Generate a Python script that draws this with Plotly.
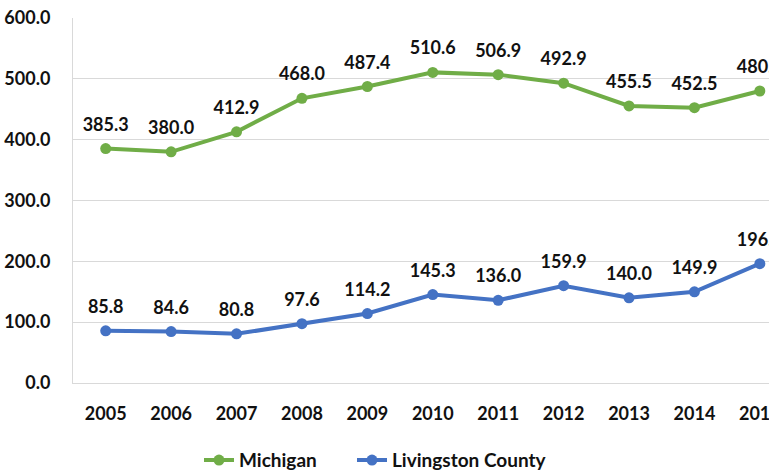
import plotly.graph_objects as go

years = ["2005", "2006", "2007", "2008", "2009", "2010", "2011", "2012", "2013", "2014", "2015"]
michigan = [385.3, 380.0, 412.9, 468.0, 487.4, 510.6, 506.9, 492.9, 455.5, 452.5, 480.0]
livingston = [85.8, 84.6, 80.8, 97.6, 114.2, 145.3, 136.0, 159.9, 140.0, 149.9, 196.1]
y_ticks = [0, 100, 200, 300, 400, 500, 600]

GREEN = "#70AD47"
BLUE = "#4472C4"
FONT = "Lato"
TXT = "#111111"

fig = go.Figure()
for name, vals, col, lg in [("Michigan", michigan, GREEN, "legend"),
                            ("Livingston County", livingston, BLUE, "legend2")]:
    fig.add_trace(go.Scatter(
        x=years, y=vals, name=name, mode="lines+markers", legend=lg,
        line=dict(color=col, width=4),
        marker=dict(color=col, size=11),
    ))
for vals in [michigan, livingston]:
    fig.add_trace(go.Scatter(
        x=years, y=vals, mode="markers+text", showlegend=False, hoverinfo="skip",
        marker=dict(size=20, color="rgba(0,0,0,0)"),
        text=[f"{v:.1f}" for v in vals], textposition="top center",
        textfont=dict(family=FONT, size=18, color=TXT, weight="bold"),
    ))

leg_common = dict(orientation="h", xref="container", yref="container", xanchor="left",
                  y=0.025, yanchor="middle", font=dict(family=FONT, size=19, color=TXT, weight="bold"),
                  bgcolor="rgba(0,0,0,0)")
fig.update_layout(
    width=769, height=472,
    margin=dict(l=73, r=0, t=18, b=89, autoexpand=False),
    plot_bgcolor="white", paper_bgcolor="white",
    font=dict(family=FONT, size=18, color=TXT, weight="bold"),
    showlegend=True,
    legend=dict(x=199 / 769, **leg_common),
    legend2=dict(x=352 / 769, **leg_common),
)
fig.update_xaxes(type="category", range=[-0.5, 10.14], showgrid=False,
                 showline=True, linecolor="#D9D9D9", linewidth=1,
                 ticks="", ticklabelstandoff=14,
                 tickfont=dict(family=FONT, size=18, color=TXT, weight="bold"))
fig.update_yaxes(range=[0, 600], tickvals=y_ticks, tickformat=".1f",
                 showgrid=True, gridcolor="#D9D9D9", gridwidth=1,
                 showline=True, linecolor="#D9D9D9", linewidth=1, zeroline=False,
                 ticks="", ticklabelstandoff=18,
                 tickfont=dict(family=FONT, size=18, color=TXT, weight="bold"))

fig.write_html("out.html", config={"displayModeBar": False},
               post_script="document.body.style.margin='0';document.body.style.overflow='hidden';")
